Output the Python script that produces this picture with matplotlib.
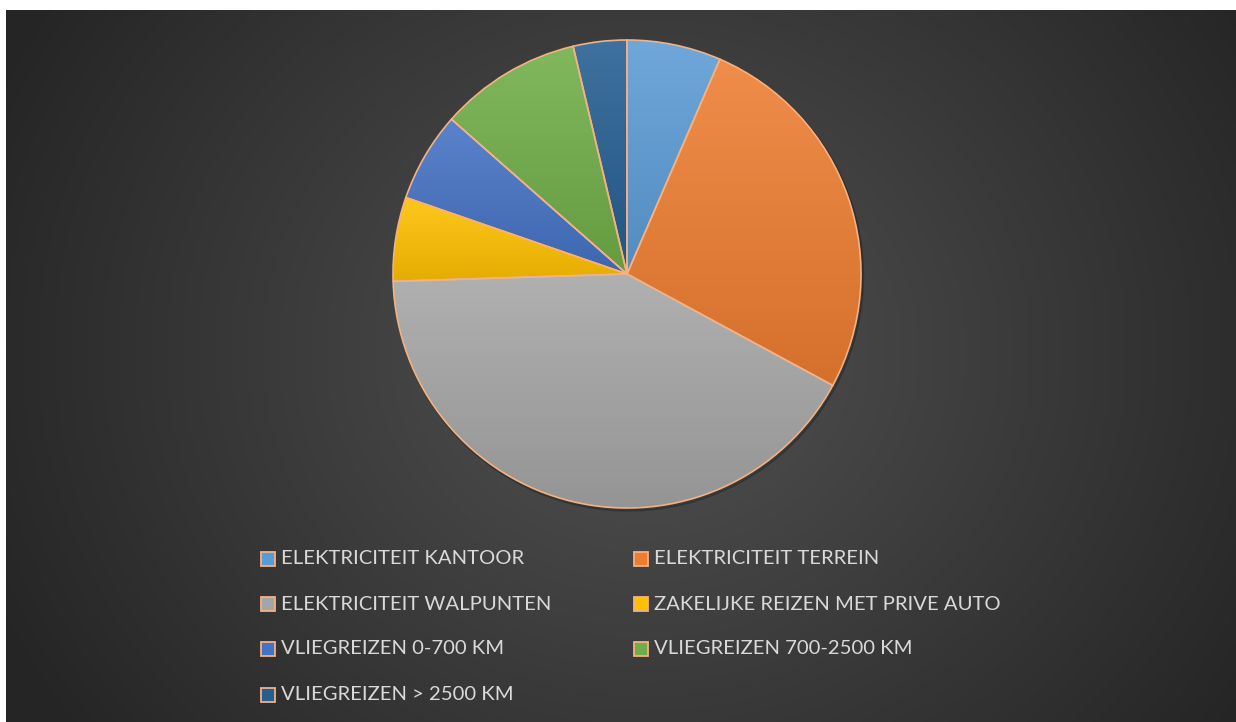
import numpy as np
import matplotlib.pyplot as plt
from matplotlib.patches import Rectangle
from matplotlib.colors import to_rgb

labels = ["ELEKTRICITEIT KANTOOR", "ELEKTRICITEIT TERREIN", "ELEKTRICITEIT WALPUNTEN",
          "ZAKELIJKE REIZEN MET PRIVE AUTO", "VLIEGREIZEN 0-700 KM",
          "VLIEGREIZEN 700-2500 KM", "VLIEGREIZEN > 2500 KM"]
values = [6.5, 26.4, 41.6, 5.8, 6.2, 9.8, 3.7]
colors = ["#5B9BD5", "#ED7D31", "#A5A5A5", "#FFC000", "#4472C4", "#70AD47", "#255E91"]
edge = "#F4B183"

W, H = 1236, 722
fig = plt.figure(figsize=(W / 100, H / 100), dpi=100)
fig.patch.set_facecolor("white")

# dark radial background
bg = fig.add_axes([6 / W, 0, 1 - 6 / W, 1 - 10 / H])
yy, xx = np.mgrid[0:712, 0:1230]
d = np.hypot((xx - 640) / 1.0, (yy - 340) / 0.9)
v = 0x52 - (0x52 - 0x25) * np.clip(d / 720, 0, 1)
bg.imshow(np.dstack([v, v, v]) / 255, aspect="auto", interpolation="bilinear")
bg.axis("off")

ax = fig.add_axes([0, 0, 1, 1])
ax.set_xlim(0, W)
ax.set_ylim(0, H)
cx, cy, r = 627, H - 274, 234

# soft shadow
ax.add_patch(plt.Circle((cx + 1.5, cy - 2), r + 1, color="black", alpha=0.18, zorder=1))

wedges, _ = ax.pie(values, startangle=90, counterclock=False, center=(cx, cy), radius=r,
                   colors=colors, frame=True,
                   wedgeprops=dict(edgecolor=edge, linewidth=1.2))
ax.set_xlim(0, W)
ax.set_ylim(0, H)
ax.set_aspect("equal")
ax.axis("off")

# vertical gradient fill per slice, lighter on top
for w, c in zip(wedges, colors):
    w.set_zorder(3)
    bb = w.get_path().get_extents(w.get_transform())
    base = np.array(to_rgb(c))
    top = base + (1 - base) * 0.12
    bot = base * 0.9
    t = np.linspace(0, 1, 100)[:, None]
    grad = top * (1 - t) + bot * t
    x0, y0 = ax.transData.inverted().transform((bb.x0, bb.y0))
    x1, y1 = ax.transData.inverted().transform((bb.x1, bb.y1))
    im = ax.imshow(grad[:, None, :].repeat(2, axis=1), extent=(x0, x1, y0, y1),
                   aspect="auto", zorder=2, interpolation="bilinear")
    im.set_clip_path(w)
    w.set_facecolor("none")
ax.set_xlim(0, W)
ax.set_ylim(0, H)

# legend, two columns, row-major
col_x = [268, 641]
row_y = [559, 604, 649, 695]
for i, (lab, c) in enumerate(zip(labels, colors)):
    x = col_x[i % 2]
    y = H - row_y[i // 2]
    ax.add_patch(Rectangle((x - 7, y - 7), 14, 14, facecolor=c, edgecolor=edge,
                           linewidth=1.3, zorder=4))
    ax.text(x + 13, y, lab, color="#D9D9D9", fontsize=14.6, family="Lato",
            va="center", ha="left", zorder=4)

fig.savefig("out.png", dpi=100)
